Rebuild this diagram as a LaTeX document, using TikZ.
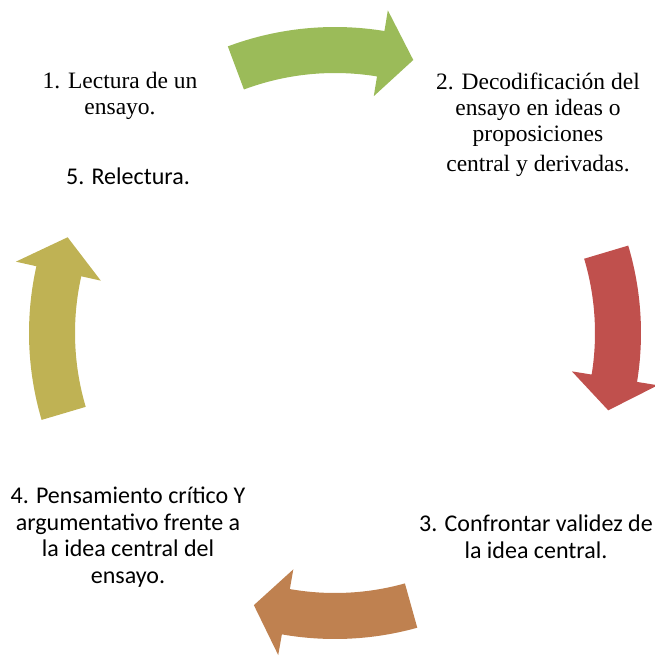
\documentclass[tikz,border=0pt]{standalone}
\usepackage{fontspec}
\setmainfont{Liberation Serif}
\newfontfamily\calibri{Carlito}
\definecolor{arrowgreen}{HTML}{9BBB59}
\definecolor{arrowred}{HTML}{C0504D}
\definecolor{arrowbrown}{HTML}{BF8150}
\definecolor{arrowolive}{HTML}{BFB254}
\begin{document}
\begin{tikzpicture}
  [x=1pt,y=1pt,
   every node/.style={align=center,inner sep=0pt},
   serif/.style={font=\fontsize{23.5}{26}\selectfont},
   sans/.style={font=\calibri\fontsize{24}{26.5}\selectfont}]

  \useasboundingbox (-335,-323) rectangle (319,333);

  % the four curved arrows of the cycle
  \foreach \s/\h/\t/\col in {110.5/80.7/74/arrowgreen,16.6/-9.2/-15.8/arrowred,
                             -74.4/-100/-106.6/arrowbrown,196.5/167.4/160.3/arrowolive}
    \fill[\col] (\s:306) arc[start angle=\s,end angle=\h,radius=306]
      -- (\h:327) -- (\t:284) -- (\h:240) -- (\h:260)
      arc[start angle=\h,end angle=\s,radius=260] -- cycle;

  \node[serif] (lectura) at (-215,237) {1. Lectura de un\\ensayo.};
  \node[serif] (decod) at (203,208) {2. Decodificación del\\ensayo en ideas o\\proposiciones\\[4pt]central y derivadas.};
  \node[sans] (relect) at (-207,157) {5. Relectura.};
  \node[sans] (confr) at (201,-204) {3. Confrontar validez de\\la idea central.};
  \node[sans] (pensam) at (-207,-204) {4. Pensamiento crítico Y\\argumentativo frente a\\la idea central del\\ensayo.};
\end{tikzpicture}
\end{document}
